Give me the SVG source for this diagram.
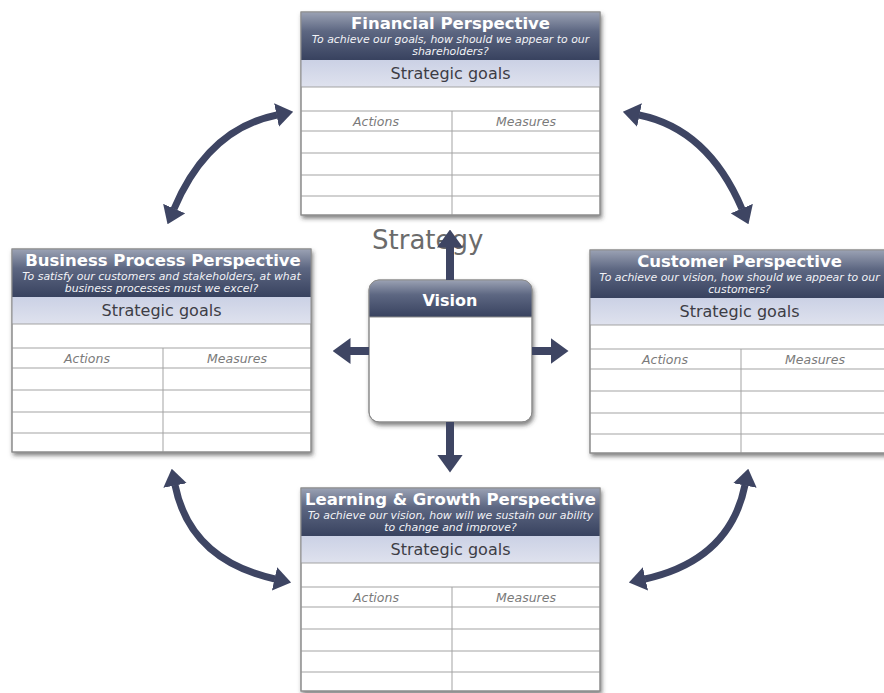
<svg xmlns="http://www.w3.org/2000/svg" xmlns:xlink="http://www.w3.org/1999/xlink" width="884" height="693" viewBox="0 0 884 693">
<style>
.frame{fill:#ffffff;stroke:#8c8c8c;stroke-width:1}
.grid{stroke:#a3a3a3;stroke-width:1;fill:none}
.title{font-family:"DejaVu Sans",Verdana,sans-serif;font-weight:bold;font-size:16.5px;fill:#ffffff;text-anchor:middle}
.sub{font-family:"DejaVu Sans",Verdana,sans-serif;font-style:italic;font-size:10.9px;fill:#f2f3f7;text-anchor:middle}
.goals{font-family:"DejaVu Sans",Verdana,sans-serif;font-size:16px;fill:#3d3d45;text-anchor:middle}
.col{font-family:"DejaVu Sans",Verdana,sans-serif;font-style:italic;font-size:12.5px;fill:#7a7a7a;text-anchor:middle}
.arrow{fill:none;stroke:#3e4563}
.straight{stroke-width:8}
.curve{stroke-width:7}
</style>
<defs>
<linearGradient id="hdr" x1="0" y1="0" x2="0" y2="1">
<stop offset="0" stop-color="#9ba2b4"/>
<stop offset="0.4" stop-color="#5d6782"/>
<stop offset="1" stop-color="#38425f"/>
</linearGradient>
<linearGradient id="band" x1="0" y1="0" x2="0" y2="1">
<stop offset="0" stop-color="#cbd1e5"/>
<stop offset="1" stop-color="#dfe2ee"/>
</linearGradient>
<filter id="shadow" x="-5%" y="-5%" width="112%" height="115%">
<feDropShadow dx="1.5" dy="3" stdDeviation="2" flood-color="#2a2a2a" flood-opacity="0.6"/>
</filter>
<marker id="headS" viewBox="0 0 18 26" refX="0.5" refY="13" markerWidth="18" markerHeight="26" markerUnits="userSpaceOnUse" orient="auto-start-reverse">
<path d="M0,0 L18,13 L0,26 Z" fill="#3e4563"/>
</marker>
<marker id="headC" viewBox="0 0 17 24" refX="0.5" refY="12" markerWidth="17" markerHeight="24" markerUnits="userSpaceOnUse" orient="auto-start-reverse">
<path d="M0,0 L17,12 L0,24 Z" fill="#3e4563"/>
</marker>
<g id="card">
<rect class="frame" x="0" y="0" width="299" height="203" filter="url(#shadow)"/>
<rect x="0" y="0" width="299" height="48" fill="url(#hdr)"/>
<rect x="0" y="48" width="299" height="27" fill="url(#band)"/>
<path class="grid" d="M0,75H299M0,99H299M0,119H299M0,141H299M0,163H299M0,184H299M151,99V203"/>
<rect x="0" y="0" width="299" height="203" fill="none" stroke="#8c8c8c"/>
</g>
</defs>

<rect x="0" y="0" width="884" height="693" fill="#ffffff"/>

<g id="financial" transform="translate(301,12)">
<use xlink:href="#card"/>
<text class="title" x="149.5" y="17">Financial Perspective</text>
<text class="sub" x="149.5" y="31">To achieve our goals, how should we appear to our</text>
<text class="sub" x="149.5" y="43">shareholders?</text>
<text class="goals" x="149.5" y="67">Strategic goals</text>
<text class="col" x="75" y="114">Actions</text>
<text class="col" x="225" y="114">Measures</text>
</g>

<g id="business" transform="translate(12,249)">
<use xlink:href="#card"/>
<text class="title" x="151" y="17">Business Process Perspective</text>
<text class="sub" x="149.5" y="31">To satisfy our customers and stakeholders, at what</text>
<text class="sub" x="149.5" y="43">business processes must we excel?</text>
<text class="goals" x="149.5" y="67">Strategic goals</text>
<text class="col" x="75" y="114">Actions</text>
<text class="col" x="225" y="114">Measures</text>
</g>

<g id="customer" transform="translate(590,250)">
<use xlink:href="#card"/>
<text class="title" x="149.5" y="17">Customer Perspective</text>
<text class="sub" x="149.5" y="31">To achieve our vision, how should we appear to our</text>
<text class="sub" x="149.5" y="43">customers?</text>
<text class="goals" x="149.5" y="67">Strategic goals</text>
<text class="col" x="75" y="114">Actions</text>
<text class="col" x="225" y="114">Measures</text>
</g>

<g id="learning" transform="translate(301,488)">
<use xlink:href="#card"/>
<text class="title" x="149.5" y="17">Learning &amp; Growth Perspective</text>
<text class="sub" x="149.5" y="31">To achieve our vision, how will we sustain our ability</text>
<text class="sub" x="149.5" y="43">to change and improve?</text>
<text class="goals" x="149.5" y="67">Strategic goals</text>
<text class="col" x="75" y="114">Actions</text>
<text class="col" x="225" y="114">Measures</text>
</g>

<g id="vision">
<rect x="369" y="280" width="163" height="142" rx="10" ry="10" fill="#ffffff" stroke="#8c8c8c" filter="url(#shadow)"/>
<path d="M369,317V290a10,10 0 0 1 10,-10H522a10,10 0 0 1 10,10V317Z" fill="url(#hdr)"/>
<line x1="369" y1="317" x2="532" y2="317" stroke="#8c8c8c"/>
<rect x="369" y="280" width="163" height="142" rx="10" ry="10" fill="none" stroke="#8c8c8c"/>
<text x="450" y="306" font-family="'DejaVu Sans',Verdana,sans-serif" font-weight="bold" font-size="16" fill="#ffffff" text-anchor="middle">Vision</text>
</g>

<g id="strategy-label">
<text x="372" y="249" font-family="'DejaVu Sans',Verdana,sans-serif" font-size="26" fill="#6b6b6b">Strategy</text>
</g>

<g id="connectors">
<path class="arrow straight" d="M450,280V247" marker-end="url(#headS)"/>
<path class="arrow straight" d="M450,422V455" marker-end="url(#headS)"/>
<path class="arrow straight" d="M369,351H350" marker-end="url(#headS)"/>
<path class="arrow straight" d="M532,351H551" marker-end="url(#headS)"/>
<path class="arrow curve" d="M174,209Q208,129 277,115" marker-start="url(#headC)" marker-end="url(#headC)"/>
<path class="arrow curve" d="M742,209Q708,129 639,115" marker-start="url(#headC)" marker-end="url(#headC)"/>
<path class="arrow curve" d="M175,485Q190,560 275,579" marker-start="url(#headC)" marker-end="url(#headC)"/>
<path class="arrow curve" d="M745,485Q730,560 645,579" marker-start="url(#headC)" marker-end="url(#headC)"/>
</g>
</svg>
